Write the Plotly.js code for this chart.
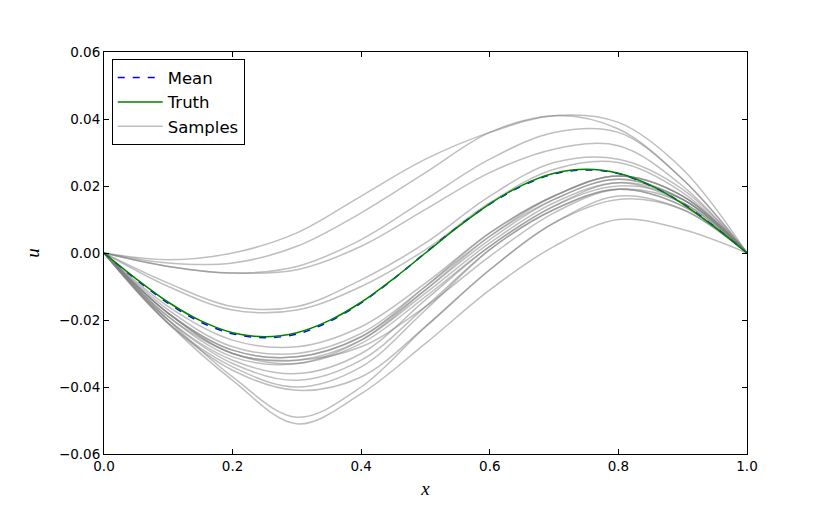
<!DOCTYPE html>
<html>
<head>
<meta charset="utf-8">
<script src="https://cdn.plot.ly/plotly-3.0.1.min.js"></script>
<style>
  body { margin: 0; background: #fff; }
  #fig { width: 830px; height: 519px; }
</style>
</head>
<body>
<div id="fig"></div>
<script>
// grid for the truth / mean curves
var xFine = [0, 0.05, 0.1, 0.15, 0.2, 0.25, 0.3, 0.35, 0.4, 0.45, 0.5,
             0.55, 0.6, 0.65, 0.7, 0.75, 0.8, 0.85, 0.9, 0.95, 1.0];
var truth = [0, -0.0077, -0.0147, -0.0202, -0.0238, -0.025, -0.0238, -0.0202, -0.0147, -0.0077, 0,
             0.0077, 0.0147, 0.0202, 0.0238, 0.025, 0.0238, 0.0202, 0.0147, 0.0077, 0];
var mean = [0, -0.0079, -0.0150, -0.0206, -0.0241, -0.0253, -0.0242, -0.0205, -0.0149, -0.0078, 0.0001,
            0.0078, 0.0146, 0.0200, 0.0236, 0.0248, 0.0237, 0.0201, 0.0148, 0.0078, 0];

// grid for the samples
var xs = [0, 0.1, 0.2, 0.3, 0.4, 0.5, 0.6, 0.7, 0.8, 0.9, 1.0];
var s1  = [0, -0.002, 0.000, 0.006, 0.017, 0.028, 0.036, 0.041, 0.039, 0.025, 0];
var s2  = [0, -0.003, -0.003, 0.002, 0.012, 0.024, 0.036, 0.041, 0.037, 0.022, 0];
var s3  = [0, -0.004, -0.006, -0.004, 0.004, 0.016, 0.028, 0.036, 0.036, 0.022, 0];
var s4  = [0, -0.004, -0.006, -0.005, 0.002, 0.013, 0.024, 0.031, 0.032, 0.020, 0];
var s5  = [0, -0.009, -0.016, -0.016, -0.008, 0.003, 0.017, 0.027, 0.028, 0.019, 0];
var s6  = [0, -0.010, -0.017, -0.017, -0.010, 0.001, 0.015, 0.025, 0.027, 0.018, 0];
var s7  = [0, -0.016, -0.026, -0.028, -0.022, -0.009, 0.006, 0.017, 0.023, 0.017, 0];
var s8  = [0, -0.017, -0.028, -0.030, -0.024, -0.010, 0.005, 0.016, 0.022, 0.016, 0];
var s9  = [0, -0.018, -0.029, -0.031, -0.025, -0.011, 0.004, 0.016, 0.022, 0.016, 0];
var s10 = [0, -0.018, -0.030, -0.032, -0.026, -0.012, 0.003, 0.015, 0.021, 0.016, 0];
var s11 = [0, -0.019, -0.030, -0.033, -0.027, -0.013, 0.002, 0.014, 0.021, 0.015, 0];
var s12 = [0, -0.018, -0.030, -0.032, -0.028, -0.016, -0.001, 0.012, 0.019, 0.015, 0];
var s13 = [0, -0.019, -0.031, -0.033, -0.026, -0.011, 0.005, 0.017, 0.023, 0.017, 0];
var s14 = [0, -0.020, -0.032, -0.036, -0.030, -0.014, 0.002, 0.014, 0.020, 0.016, 0];
var s15 = [0, -0.020, -0.033, -0.038, -0.032, -0.016, 0.001, 0.013, 0.019, 0.014, 0];
var s16 = [0, -0.021, -0.034, -0.040, -0.034, -0.017, 0.001, 0.013, 0.019, 0.014, 0];
var s17 = [0, -0.021, -0.035, -0.041, -0.037, -0.022, -0.005, 0.009, 0.017, 0.013, 0];
var s18 = [0, -0.020, -0.037, -0.049, -0.040, -0.022, -0.005, 0.009, 0.016, 0.013, 0];
var s19 = [0, -0.021, -0.038, -0.051, -0.042, -0.027, -0.011, 0.002, 0.010, 0.007, 0];
var s20 = [0, -0.018, -0.029, -0.031, -0.025, -0.010, 0.006, 0.017, 0.023, 0.017, 0];
var samples = [s1, s2, s3, s4, s5, s6, s7, s8, s9, s10, s11, s12, s13, s14, s15, s16, s17, s18, s19, s20];

var data = [];
for (var i = 0; i < samples.length; i++) {
  data.push({
    x: xs,
    y: samples[i],
    mode: 'lines',
    type: 'scatter',
    name: 'Samples',
    legendgroup: 'c',
    legendrank: 3,
    showlegend: i == 0,
    line: {color: 'rgba(128,128,128,0.5)', width: 1.5, shape: 'spline', smoothing: 1},
    hoverinfo: 'none'
  });
}
// mean (drawn under the truth, as in the original)
data.push({
  x: xFine, y: mean,
  mode: 'lines', type: 'scatter',
  name: 'Mean', legendgroup: 'a', legendrank: 1,
  line: {color: '#0000ff', width: 1.5, dash: '7px,8px', shape: 'spline'}
});
// truth
data.push({
  x: xFine, y: truth,
  mode: 'lines', type: 'scatter',
  name: 'Truth', legendgroup: 'b', legendrank: 2,
  line: {color: '#008000', width: 1.5, shape: 'spline'}
});

var axisStyle = {
  showgrid: false,
  zeroline: false,
  showline: true,
  linecolor: '#000',
  linewidth: 1,
  mirror: 'ticks',
  ticks: 'inside',
  ticklen: 5,
  tickcolor: '#000',
  tickfont: {family: 'DejaVu Sans', size: 13.5, color: '#000'}
};

var layout = {
  width: 830,
  height: 519,
  margin: {l: 104, r: 83, t: 52, b: 65},
  paper_bgcolor: '#fff',
  plot_bgcolor: '#fff',
  font: {family: 'DejaVu Sans', color: '#000'},
  showlegend: true,
  legend: {
    x: 0.012, y: 0.982,
    xanchor: 'left', yanchor: 'top',
    bgcolor: '#fff',
    bordercolor: '#000',
    borderwidth: 1,
    traceorder: 'grouped',
    tracegroupgap: 0,
    itemwidth: 45,
    font: {family: 'DejaVu Sans', size: 16.5, color: '#000'}
  },
  xaxis: Object.assign({}, axisStyle, {
    range: [0, 1],
    dtick: 0.2,
    tickformat: '.1f',
    title: {text: '<i>x</i>', font: {family: 'Liberation Serif', size: 19, color: '#000'}, standoff: 8}
  }),
  yaxis: Object.assign({}, axisStyle, {
    range: [-0.06, 0.06],
    dtick: 0.02,
    tickformat: '.2f',
    title: {text: '<i>u</i>', font: {family: 'Liberation Serif', size: 19, color: '#000'}, standoff: 14}
  })
};

Plotly.newPlot('fig', data, layout, {displayModeBar: false, staticPlot: true});
</script>
</body>
</html>
